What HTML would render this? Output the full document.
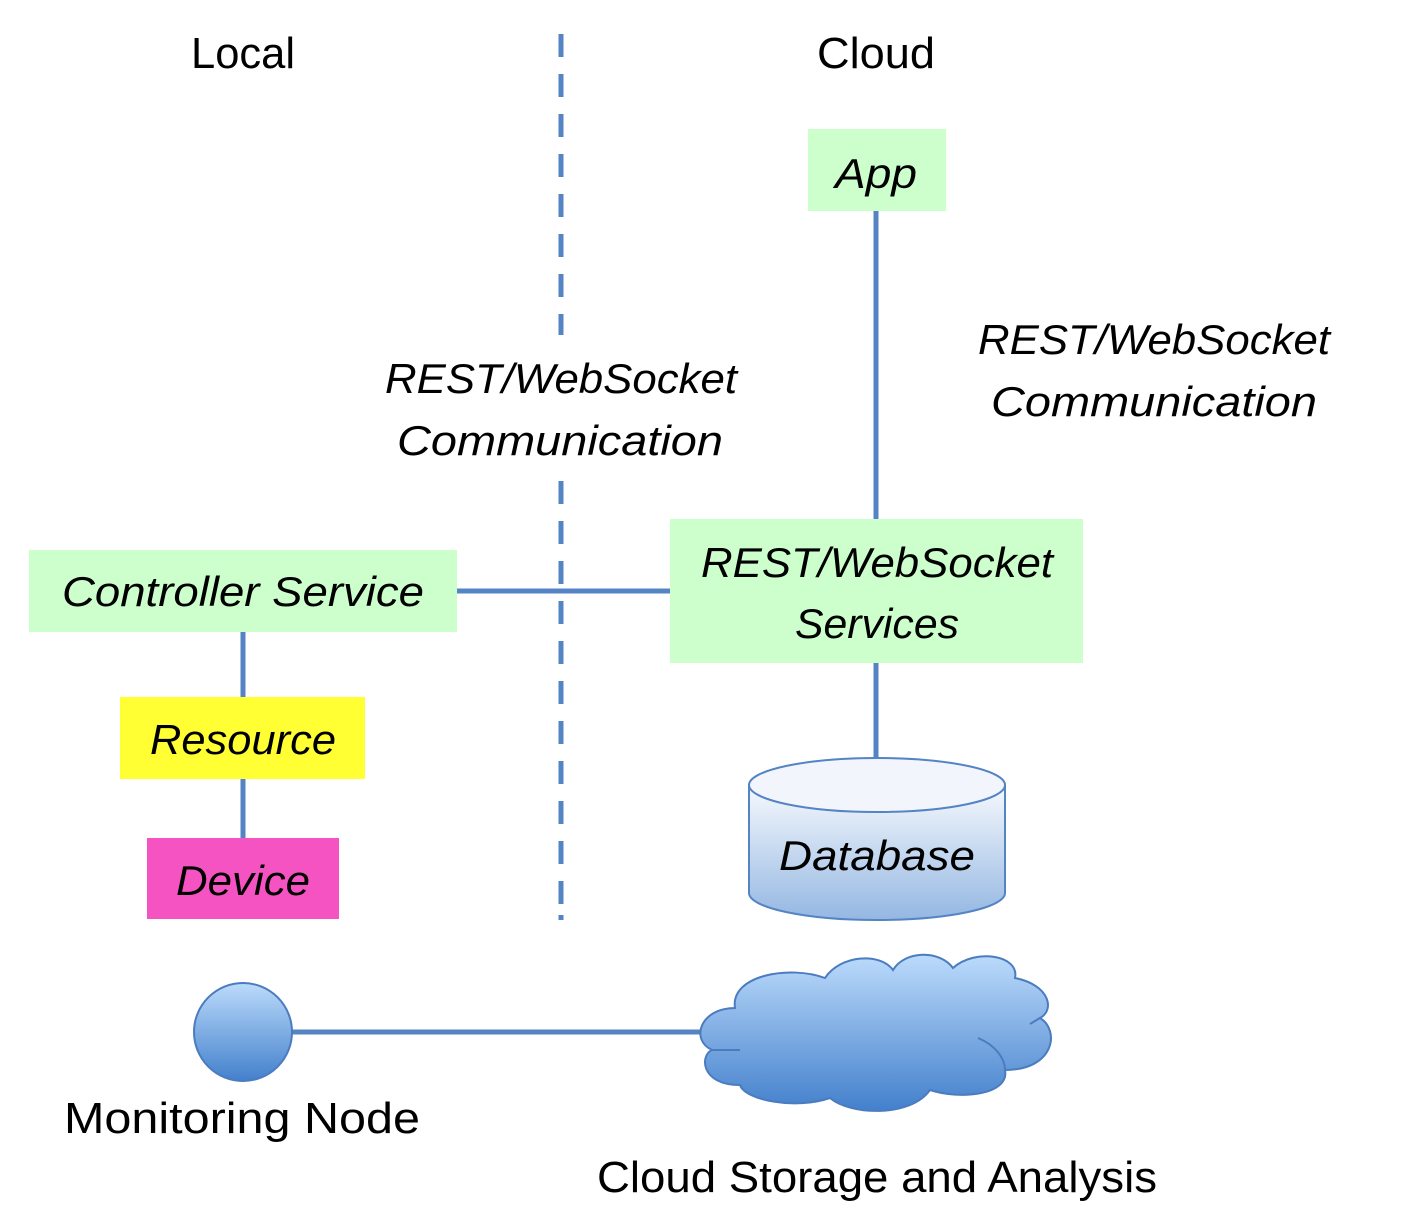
<!DOCTYPE html>
<html><head><meta charset="utf-8"><style>html,body{margin:0;padding:0;background:#fff}svg{display:block}</style></head>
<body>
<svg width="1412" height="1228" viewBox="0 0 1412 1228" xmlns="http://www.w3.org/2000/svg">
<defs>
<linearGradient id="g" x1="0" y1="0" x2="0" y2="1"><stop offset="0" stop-color="#bcdbfb"/><stop offset="1" stop-color="#4380cc"/></linearGradient>
<linearGradient id="db" x1="0" y1="0" x2="0" y2="1"><stop offset="0" stop-color="#f6f9fd"/><stop offset="1" stop-color="#94b7e2"/></linearGradient>
</defs>
<g font-family="Liberation Sans, sans-serif" fill="#000">
<text x="243" y="68" font-size="44" text-anchor="middle" textLength="104" lengthAdjust="spacingAndGlyphs">Local</text>
<text x="876" y="68" font-size="44" text-anchor="middle" textLength="118" lengthAdjust="spacingAndGlyphs">Cloud</text>
</g>
<g stroke="#5484c3" stroke-width="5" fill="none">
<line x1="561" y1="34" x2="561" y2="335" stroke-dasharray="23 17"/>
<line x1="561" y1="481" x2="561" y2="920" stroke-dasharray="23 17"/>
<line x1="561" y1="915" x2="561" y2="920"/>
<line x1="876" y1="211" x2="876" y2="519"/>
<line x1="457" y1="591" x2="670" y2="591"/>
<line x1="243" y1="632" x2="243" y2="697"/>
<line x1="243" y1="779" x2="243" y2="838"/>
<line x1="876" y1="663" x2="876" y2="760"/>
<line x1="290" y1="1032" x2="706" y2="1032"/>
</g>
<rect x="808" y="129" width="138" height="82" fill="#ccffcc"/>
<rect x="670" y="519" width="413" height="144" fill="#ccffcc"/>
<rect x="29" y="550" width="428" height="82" fill="#ccffcc"/>
<rect x="120" y="697" width="245" height="82" fill="#ffff33"/>
<rect x="147" y="838" width="192" height="81" fill="#f552c2"/>
<path d="M749 785 L749 893 A128 27 0 0 0 1005 893 L1005 785 Z" fill="url(#db)" stroke="#5484c3" stroke-width="2"/>
<ellipse cx="877" cy="785" rx="128" ry="27" fill="#f2f6fc" stroke="#5484c3" stroke-width="2"/>
<circle cx="243" cy="1032" r="49" fill="url(#g)" stroke="#4a7cbf" stroke-width="2"/>
<path d="M735 1008 C730 975 790 965 825 978 C840 955 880 952 893 970 C905 950 940 950 953 968 C975 948 1020 955 1015 978 C1050 985 1055 1010 1040 1018 C1060 1030 1055 1070 1005 1070 C1010 1095 960 1100 930 1090 C910 1118 850 1115 830 1098 C795 1110 745 1100 740 1085 C700 1085 700 1055 712 1050 C690 1040 700 1008 735 1008 Z" fill="url(#g)" stroke="#4a7cbf" stroke-width="2"/>
<g fill="none" stroke="#4a7cbf" stroke-width="2">
<path d="M712 1050 C720 1050 730 1050 740 1050"/>
<path d="M978 1038 C995 1045 1005 1058 1005 1070"/>
<path d="M1040 1018 L1030 1024"/>
</g>
<g font-family="Liberation Sans, sans-serif" font-style="italic" font-size="42" text-anchor="middle" fill="#000">
<text x="876" y="188" textLength="82" lengthAdjust="spacingAndGlyphs">App</text>
<text x="561" y="393" textLength="352" lengthAdjust="spacingAndGlyphs">REST/WebSocket</text>
<text x="560" y="455" textLength="326" lengthAdjust="spacingAndGlyphs">Communication</text>
<text x="1154" y="354" textLength="352" lengthAdjust="spacingAndGlyphs">REST/WebSocket</text>
<text x="1154" y="416" textLength="326" lengthAdjust="spacingAndGlyphs">Communication</text>
<text x="877" y="577" textLength="352" lengthAdjust="spacingAndGlyphs">REST/WebSocket</text>
<text x="877" y="638" textLength="164" lengthAdjust="spacingAndGlyphs">Services</text>
<text x="243" y="606" textLength="362" lengthAdjust="spacingAndGlyphs">Controller Service</text>
<text x="243" y="754" textLength="186" lengthAdjust="spacingAndGlyphs">Resource</text>
<text x="243" y="895" textLength="134" lengthAdjust="spacingAndGlyphs">Device</text>
<text x="877" y="870" textLength="196" lengthAdjust="spacingAndGlyphs">Database</text>
</g>
<g font-family="Liberation Sans, sans-serif" font-size="44" text-anchor="middle" fill="#000">
<text x="242" y="1133" textLength="356" lengthAdjust="spacingAndGlyphs">Monitoring Node</text>
<text x="877" y="1192" textLength="560" lengthAdjust="spacingAndGlyphs">Cloud Storage and Analysis</text>
</g>
</svg>
</body></html>
